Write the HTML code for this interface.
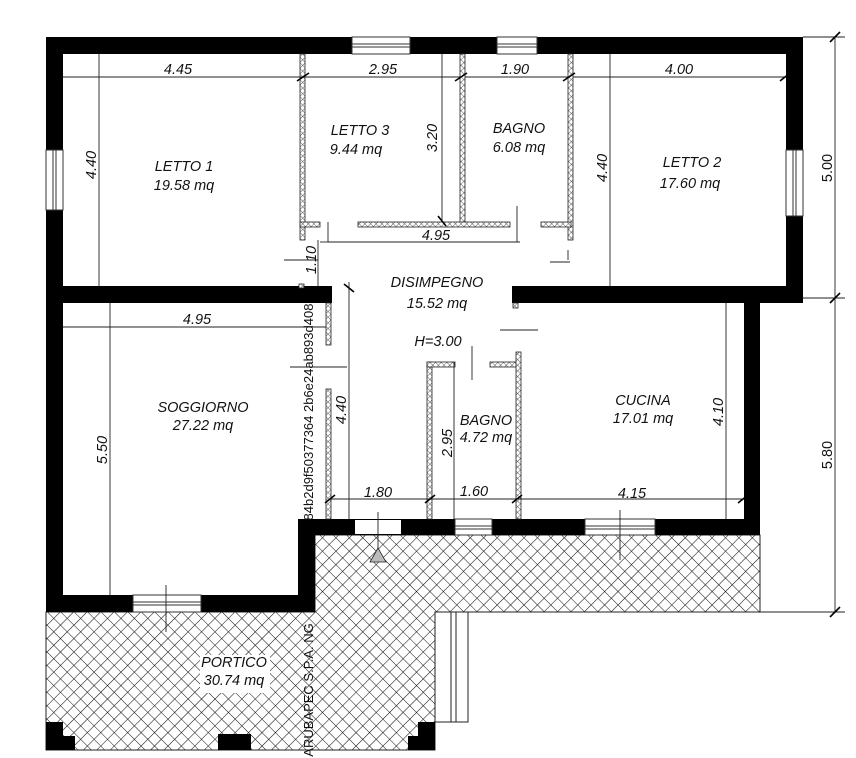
<!DOCTYPE html>
<html><head><meta charset="utf-8"><style>
html,body{margin:0;padding:0;background:#fff}
svg{display:block}
text{font-family:"Liberation Sans",sans-serif;font-style:italic;font-size:14.5px;fill:#111}
</style></head><body>
<svg width="856" height="758" viewBox="0 0 856 758" xmlns="http://www.w3.org/2000/svg">
<defs>
<pattern id="h" width="9.5" height="9.5" patternUnits="userSpaceOnUse" patternTransform="rotate(45)">
<rect width="9.5" height="9.5" fill="#fff"/>
<path d="M0 0H9.5M0 0V9.5" stroke="#111" stroke-width="1.1"/>
</pattern>
<pattern id="p" width="4" height="4" patternUnits="userSpaceOnUse" patternTransform="rotate(45)">
<rect width="4" height="4" fill="#fff"/>
<path d="M0 0H4M0 0V4" stroke="#333" stroke-width="0.8"/>
</pattern>
</defs>
<polygon points="46,612 315,612 315,535 760,535 760,612 435,612 435,750 46,750" fill="url(#h)" stroke="#222" stroke-width="1"/>
<rect x="435" y="612" width="33" height="110" fill="#fff" stroke="#222"/>
<line x1="451" y1="612" x2="451" y2="722" stroke="#222"/>
<line x1="456" y1="612" x2="456" y2="722" stroke="#222"/>
<path d="M46 722H63V736H75V750H46Z" fill="#000"/>
<rect x="218" y="734" width="33" height="16" fill="#000"/>
<path d="M435 722H418V736H408V750H435Z" fill="#000"/>
<rect x="200" y="655" width="70" height="38" fill="#fff"/>
<g fill="#000">
<rect x="46" y="37" width="757" height="17"/>
<rect x="46" y="37" width="17" height="575"/>
<rect x="786" y="37" width="17" height="266"/>
<rect x="46" y="286" width="286" height="17"/>
<rect x="512" y="286" width="291" height="17"/>
<rect x="744" y="286" width="16" height="249"/>
<rect x="298" y="519" width="462" height="16"/>
<rect x="298" y="519" width="17" height="93"/>
<rect x="46" y="595" width="269" height="17"/>
</g>
<g fill="#fff" stroke="#333" stroke-width="1">
<rect x="352" y="37" width="58" height="17"/><line x1="352" y1="44" x2="410" y2="44"/><line x1="352" y1="47" x2="410" y2="47"/>
<rect x="497" y="37" width="40" height="17"/><line x1="497" y1="44" x2="537" y2="44"/><line x1="497" y1="47" x2="537" y2="47"/>
<rect x="46" y="150" width="17" height="60"/><line x1="53" y1="150" x2="53" y2="210"/><line x1="56" y1="150" x2="56" y2="210"/>
<rect x="786" y="150" width="17" height="66"/><line x1="793" y1="150" x2="793" y2="216"/><line x1="796" y1="150" x2="796" y2="216"/>
<rect x="133" y="595" width="68" height="17"/><line x1="133" y1="602" x2="201" y2="602"/><line x1="133" y1="605" x2="201" y2="605"/>
<rect x="455" y="519" width="37" height="16"/><line x1="455" y1="526" x2="492" y2="526"/><line x1="455" y1="529" x2="492" y2="529"/>
<rect x="585" y="519" width="70" height="16"/><line x1="585" y1="526" x2="655" y2="526"/><line x1="585" y1="529" x2="655" y2="529"/>
</g>
<rect x="355" y="520" width="46" height="14" fill="#fff"/>
<g fill="url(#p)" stroke="#222" stroke-width="0.8">
<rect x="300" y="54" width="5" height="186"/>
<rect x="300" y="222" width="20" height="5"/>
<rect x="460" y="54" width="5" height="172"/>
<rect x="358" y="222" width="152" height="5"/>
<rect x="568" y="54" width="5" height="186"/>
<rect x="541" y="222" width="30" height="5"/>
<rect x="326" y="303" width="5" height="42"/>
<rect x="326" y="389" width="5" height="130"/>
<rect x="427" y="362" width="5" height="157"/>
<rect x="427" y="362" width="28" height="5"/>
<rect x="490" y="362" width="30" height="5"/>
<rect x="516" y="352" width="5" height="167"/>
<rect x="299" y="284" width="5" height="4"/>
<rect x="513" y="303" width="5" height="5"/>
</g>
<g stroke="#222" stroke-width="0.9" fill="none">
<line x1="63" y1="77" x2="305" y2="77"/><line x1="305" y1="77" x2="460" y2="77"/><line x1="465" y1="77" x2="568" y2="77"/><line x1="573" y1="77" x2="786" y2="77"/>
<line x1="99" y1="54" x2="99" y2="286"/>
<line x1="442" y1="54" x2="442" y2="222"/>
<line x1="610" y1="54" x2="610" y2="286"/>
<line x1="328" y1="242" x2="520" y2="242"/><line x1="328" y1="222" x2="328" y2="242"/><line x1="517" y1="206" x2="517" y2="242"/>
<line x1="318" y1="240" x2="318" y2="286"/><line x1="284" y1="260" x2="318" y2="260"/><line x1="320" y1="242" x2="332" y2="242"/>
<line x1="63" y1="327" x2="326" y2="327"/><line x1="110" y1="303" x2="110" y2="595"/>
<line x1="349" y1="282" x2="349" y2="519"/><line x1="290" y1="327" x2="326" y2="327"/><line x1="290" y1="367" x2="347" y2="367"/>
<line x1="331" y1="499" x2="744" y2="499"/><line x1="454" y1="362" x2="454" y2="519"/>
<line x1="726" y1="303" x2="726" y2="519"/>
<line x1="835" y1="37" x2="835" y2="612"/><line x1="803" y1="37" x2="845" y2="37"/><line x1="803" y1="298" x2="845" y2="298"/><line x1="760" y1="612" x2="845" y2="612"/>
<line x1="500" y1="330" x2="538" y2="330"/><line x1="472" y1="346" x2="472" y2="380"/>
<line x1="620" y1="510" x2="620" y2="560"/><line x1="166" y1="585" x2="166" y2="632"/><line x1="378" y1="512" x2="378" y2="555"/>
<line x1="550" y1="262" x2="570" y2="262"/><line x1="568" y1="250" x2="568" y2="260"/>
</g>
<g stroke="#000" stroke-width="1.6">
<line x1="297" y1="81" x2="309" y2="73"/><line x1="455" y1="81" x2="467" y2="73"/><line x1="563" y1="81" x2="575" y2="73"/><line x1="780" y1="81" x2="790" y2="73"/>
<line x1="830" y1="42" x2="840" y2="32"/><line x1="830" y1="303" x2="840" y2="293"/><line x1="830" y1="617" x2="840" y2="607"/>
<line x1="325" y1="503" x2="335" y2="495"/><line x1="425" y1="503" x2="435" y2="495"/><line x1="512" y1="503" x2="522" y2="495"/><line x1="738" y1="503" x2="748" y2="495"/>
<line x1="438" y1="216" x2="446" y2="226"/><line x1="344" y1="284" x2="354" y2="292"/>
</g>
<polygon points="378,548 370,562 386,562" fill="#bbb" stroke="#222" stroke-width="0.8"/>
<g text-anchor="middle">
<text x="184" y="171">LETTO 1</text><text x="184" y="190">19.58 mq</text>
<text x="360" y="135">LETTO 3</text><text x="356" y="154">9.44 mq</text>
<text x="519" y="133">BAGNO</text><text x="519" y="152">6.08 mq</text>
<text x="692" y="167">LETTO 2</text><text x="690" y="188">17.60 mq</text>
<text x="437" y="287">DISIMPEGNO</text><text x="437" y="308">15.52 mq</text>
<text x="438" y="346">H=3.00</text>
<text x="203" y="412">SOGGIORNO</text><text x="203" y="430">27.22 mq</text>
<text x="486" y="425">BAGNO</text><text x="486" y="442">4.72 mq</text>
<text x="643" y="405">CUCINA</text><text x="643" y="423">17.01 mq</text>
<text x="234" y="667">PORTICO</text><text x="234" y="685">30.74 mq</text>
<text x="178" y="74">4.45</text><text x="383" y="74">2.95</text><text x="515" y="74">1.90</text><text x="679" y="74">4.00</text>
<text x="436" y="240">4.95</text><text x="197" y="324">4.95</text>
<text x="378" y="497">1.80</text><text x="474" y="496">1.60</text><text x="632" y="498">4.15</text>
<text transform="translate(96,165) rotate(-90)">4.40</text>
<text transform="translate(437,138) rotate(-90)">3.20</text>
<text transform="translate(607,168) rotate(-90)">4.40</text>
<text transform="translate(316,260) rotate(-90)">1.10</text>
<text transform="translate(107,450) rotate(-90)">5.50</text>
<text transform="translate(346,410) rotate(-90)">4.40</text>
<text transform="translate(452,443) rotate(-90)">2.95</text>
<text transform="translate(723,412) rotate(-90)">4.10</text>
<text transform="translate(832,168) rotate(-90)" style="font-style:normal">5.00</text>
<text transform="translate(832,455) rotate(-90)" style="font-style:normal">5.80</text>
<text transform="translate(313,412) rotate(-90)" style="font-style:normal;font-size:13px">84b2d9f50377364 2b6e24ab893d408</text>
<text transform="translate(313,690) rotate(-90)" style="font-style:normal;font-size:13px">ARUBAPEC S.P.A. NG</text>
</g>
</svg>
</body></html>
